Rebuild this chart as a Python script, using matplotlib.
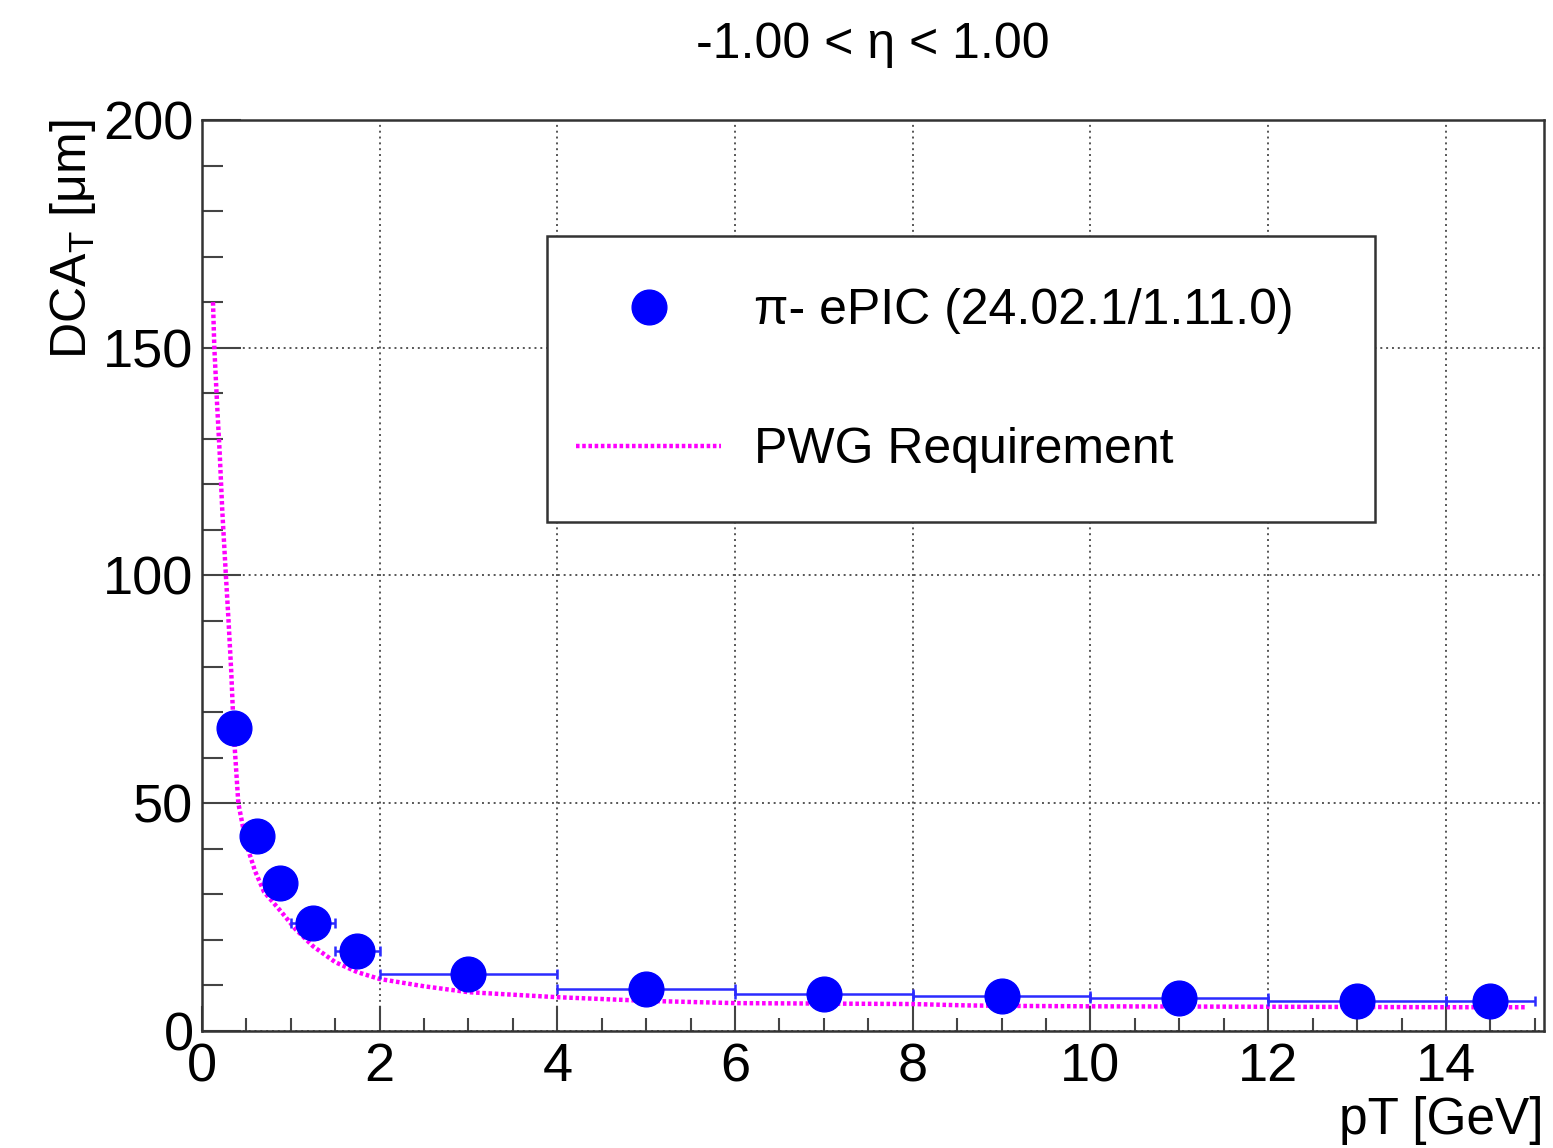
import matplotlib.pyplot as plt
from matplotlib.patches import Rectangle
from matplotlib.ticker import MultipleLocator

plt.rcParams['font.family'] = ['Liberation Sans', 'DejaVu Sans']

# measured points (pT bin centres, bin edges, DCA_T in um)
pt = [0.36, 0.625, 0.875, 1.25, 1.75, 3.0, 5.0, 7.0, 9.0, 11.0, 13.0, 14.5]
pt_lo = [0.2, 0.5, 0.75, 1.0, 1.5, 2.0, 4.0, 6.0, 8.0, 10.0, 12.0, 14.0]
pt_hi = [0.5, 0.75, 1.0, 1.5, 2.0, 4.0, 6.0, 8.0, 10.0, 12.0, 14.0, 15.0]
dca = [66.4, 42.8, 32.5, 23.8, 17.6, 12.5, 9.2, 8.2, 7.6, 7.2, 6.6, 6.6]
dca_err = [0.6, 0.4, 0.3, 0.3, 0.2, 0.2, 0.1, 0.1, 0.1, 0.1, 0.1, 0.1]

# PWG requirement curve
req_pt = [0.125, 0.14, 0.17, 0.2, 0.23, 0.27, 0.3, 0.33, 0.36, 0.41, 0.5, 0.6,
          0.7, 0.9, 1.05, 1.25, 1.5, 1.75, 2.0, 2.5, 3.0, 4.0, 5.0, 6.0, 7.0,
          8.0, 8.6, 9.0, 10.0, 12.0, 14.0, 14.9]
req_dca = [160, 150, 138, 127, 114, 100, 90, 79, 65, 50, 41, 35,
           30.5, 26, 22.4, 18.6, 15.1, 12.9, 11.4, 9.8, 8.5, 7.4, 6.6, 6.1, 6.0,
           5.9, 5.6, 5.5, 5.4, 5.3, 5.2, 5.2]

xerr = [[c - lo for c, lo in zip(pt, pt_lo)], [hi - c for c, hi in zip(pt, pt_hi)]]

fig = plt.figure(figsize=(15.53, 11.48), dpi=100)
ax = fig.add_axes([0.130, 0.102, 0.864, 0.7935])

line, = ax.plot(req_pt, req_dca, color='#ff00ff', lw=3.2, ls=(0, (0.8, 0.6)),
                zorder=3)
ax.errorbar(pt, dca, xerr=xerr, yerr=dca_err, fmt='none', ecolor='#2b2bff',
            elinewidth=1.8, capsize=3.5, capthick=1.8, zorder=4)
dots, = ax.plot(pt, dca, 'o', color='blue', ms=25, zorder=5)

ax.set_xlim(0, 15.1)
ax.set_ylim(0, 200)
ax.xaxis.set_major_locator(MultipleLocator(2))
ax.xaxis.set_minor_locator(MultipleLocator(0.5))
ax.yaxis.set_major_locator(MultipleLocator(50))
ax.yaxis.set_minor_locator(MultipleLocator(10))
ax.grid(True, which='major', color='#555555', ls=(0, (1, 2)), lw=1.4)
ax.tick_params(axis='x', which='major', direction='in', length=18, width=1.5,
               color='#444444', labelsize=39, pad=8)
ax.tick_params(axis='x', which='minor', direction='in', length=9.5, width=1.5,
               color='#444444')
ax.tick_params(axis='y', which='major', direction='in', length=28, width=1.5,
               color='#444444', labelsize=39, pad=6)
ax.tick_params(axis='y', which='minor', direction='in', length=15, width=1.5,
               color='#444444')
for s in ax.spines.values():
    s.set_linewidth(1.8)
    s.set_color('#333333')

ax.set_xlabel('pT [GeV]', fontsize=37, loc='right')
ax.xaxis.set_label_coords(1.0, -0.072)
ax.set_ylabel('DCA$_\\mathregular{T}$ [μm]', fontsize=36, loc='top')
ax.yaxis.set_label_coords(-0.0775, 1.0)

fig.text(0.562, 0.961, '-1.00 < η < 1.00', fontsize=36, ha='center', va='center')

# legend box
ax.add_patch(Rectangle((0.257, 0.559), 0.617, 0.314, transform=ax.transAxes,
                       facecolor='white', edgecolor='#333333', lw=1.8, zorder=6))
leg = ax.legend([dots, line], ['π- ePIC (24.02.1/1.11.0)', 'PWG Requirement'],
                loc='upper left', bbox_to_anchor=(0.279, 0.815),
                frameon=False, fontsize=36, handlelength=2.9, handletextpad=0.66,
                labelspacing=1.86, borderpad=0, borderaxespad=0)
leg.set_zorder(7)

fig.savefig('out.png', dpi=100)
